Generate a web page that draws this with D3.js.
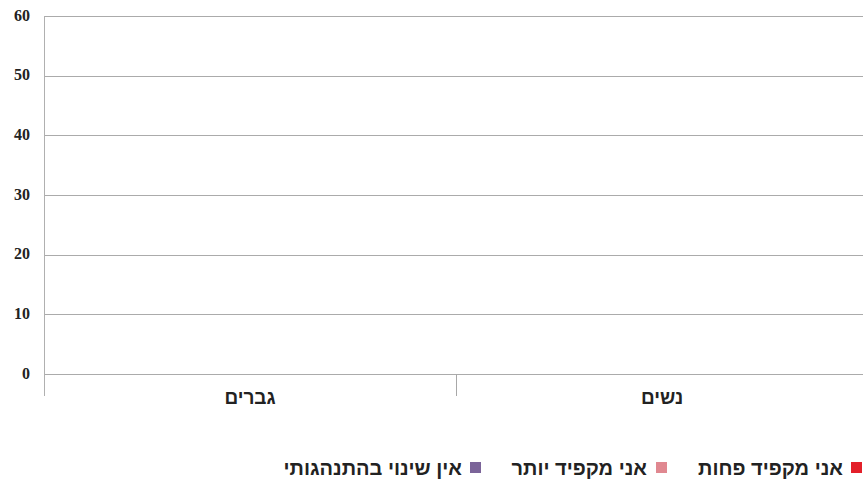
<!DOCTYPE html>
<html><head><meta charset="utf-8">
<script src="https://cdn.jsdelivr.net/npm/d3@7"></script>
<style>body{margin:0;background:#fff;} svg{display:block;}</style>
</head><body>
<svg id="c" width="863" height="486"></svg>
<script>
const categories = ["גברים", "נשים"];
const seriesNames = ["אני מקפיד פחות", "אני מקפיד יותר", "אין שינוי בהתנהגותי"];
const seriesColors = ["#e3202a", "#e08890", "#7b6499"];
const lessStrict = [0, 0];
const moreStrict = [0, 0];
const noChange = [0, 0];
const yTicks = [0, 10, 20, 30, 40, 50, 60];

(function () {
const seriesValues = [lessStrict, moreStrict, noChange];
const svg = d3.select("#c");
const pLeft = 44, pRight = 868, pTop = 16, pBottom = 374;
const x = d3.scaleBand().domain(categories).range([pLeft, pRight]);
const xs = d3.scaleBand().domain(seriesNames).range([0, x.bandwidth()]).paddingInner(0).paddingOuter(1.2);
const y = d3.scaleLinear().domain([0, 60]).range([pBottom, pTop]);
const font = "'Liberation Serif', 'DejaVu Serif', serif";
const hebFont = "'Liberation Sans', Arimo, sans-serif";

svg.append("g").selectAll("line").data(yTicks).join("line")
  .attr("x1", pLeft).attr("x2", pRight)
  .attr("y1", d => Math.round(y(d)) + 0.5).attr("y2", d => Math.round(y(d)) + 0.5)
  .attr("stroke", "#ababab").attr("stroke-width", 1);

categories.forEach((c, ci) => {
  svg.append("g").selectAll("rect").data(seriesNames).join("rect")
    .attr("x", s => x(c) + xs(s))
    .attr("width", xs.bandwidth())
    .attr("y", (s, si) => y(seriesValues[si][ci]))
    .attr("height", (s, si) => pBottom - y(seriesValues[si][ci]))
    .attr("fill", (s, si) => seriesColors[si]);
});

svg.append("line").attr("x1", pLeft + 0.5).attr("x2", pLeft + 0.5)
  .attr("y1", pTop).attr("y2", 396).attr("stroke", "#b0b0b0");
categories.slice(1).forEach(c => {
  svg.append("line").attr("x1", Math.round(x(c)) + 0.5).attr("x2", Math.round(x(c)) + 0.5)
    .attr("y1", pBottom).attr("y2", 396).attr("stroke", "#a8a8a8");
});

svg.append("g").selectAll("text").data(yTicks).join("text")
  .attr("x", 30).attr("y", d => y(d) - 1)
  .attr("text-anchor", "end").attr("dominant-baseline", "central")
  .attr("font-family", font).attr("font-weight", "bold").attr("font-size", 16)
  .attr("fill", "#222").text(d => d);

svg.append("g").selectAll("text").data(categories).join("text")
  .attr("x", d => x(d) + x.bandwidth() / 2).attr("y", 397)
  .attr("text-anchor", "middle").attr("dominant-baseline", "central")
  .attr("font-family", hebFont).attr("font-weight", "bold").attr("font-size", 19)
  .attr("fill", "#222").attr("direction", "rtl").text(d => d);

const legendY = 467;
const legendItems = [
  {sq: 851, textRight: 843},
  {sq: 656, textRight: 647},
  {sq: 470, textRight: 462}
];
seriesNames.forEach((s, i) => {
  const it = legendItems[i];
  svg.append("rect").attr("x", it.sq).attr("y", legendY - 5).attr("width", 11).attr("height", 11)
    .attr("fill", seriesColors[i]);
  svg.append("text").attr("x", it.textRight).attr("y", legendY + 1)
    .attr("text-anchor", "start").attr("direction", "rtl").attr("dominant-baseline", "central")
    .attr("font-family", hebFont).attr("font-weight", "bold").attr("font-size", 20).attr("fill", "#222").text(s);
});
})();
</script>
</body></html>
